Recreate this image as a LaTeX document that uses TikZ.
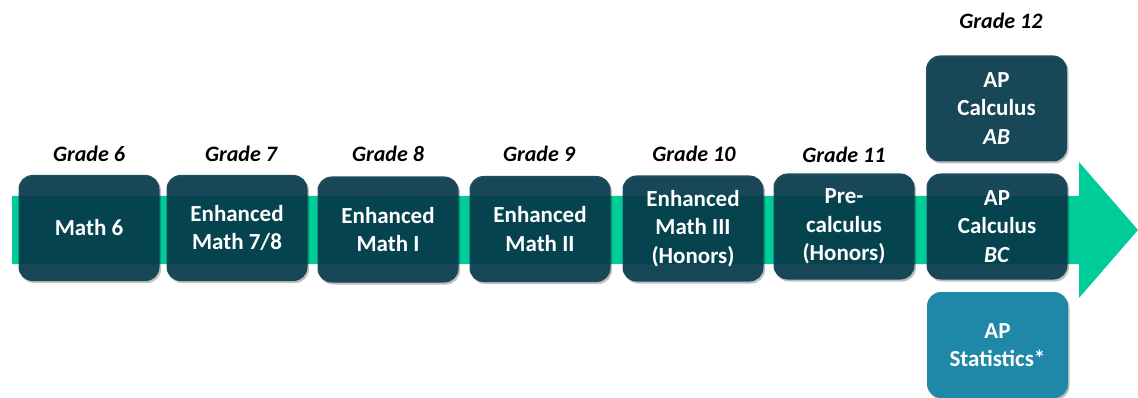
\documentclass[tikz,border=0pt]{standalone}
\usepackage{fontspec}
\setmainfont{Carlito}
\usetikzlibrary{shadows}
\definecolor{boxc}{RGB}{6,58,76}
\definecolor{statc}{RGB}{31,135,168}
\definecolor{arrowc}{RGB}{0,204,153}
\tikzset{
  course/.style={rounded corners=14pt, fill=boxc, fill opacity=0.9, text opacity=1,
    text=white, font=\bfseries\fontsize{23}{28.5}\selectfont, align=center,
    minimum width=141pt, minimum height=106pt, inner sep=0pt,
    drop shadow={shadow xshift=1.5pt, shadow yshift=-2pt, opacity=0.25, fill=black}},
  stat/.style={course, fill=statc, fill opacity=1},
  grade/.style={font=\bfseries\itshape\fontsize{22}{24}\selectfont, text=black, inner sep=0pt}
}
\begin{document}
\begin{tikzpicture}[x=1pt,y=-1pt]
\useasboundingbox (0,0) rectangle (1138,398);
\fill[arrowc] (12,196) -- (1079,196) -- (1079,162) -- (1138,230) -- (1079,298) -- (1079,264) -- (12,264) -- cycle;
\node[course] (m6) at (89,228) {Math 6};
\node[course] (m78) at (237,228) {Enhanced\\Math 7/8};
\node[course] (m1) at (388,229.5) {Enhanced\\Math I};
\node[course] (m2) at (540,229) {Enhanced\\Math II};
\node[course] (m3) at (693,228.5) {Enhanced\\Math III\\(Honors)};
\node[course] (pc) at (844,226.5) {Pre-\\calculus\\(Honors)};
\node[course] (bc) at (997,226.5) {AP\\Calculus\\\textit{BC}};
\node[course] (ab) at (996.5,108.5) {AP\\Calculus\\\textit{AB}};
\node[stat] (st) at (997.5,345) {AP\\Statistics*};
\node[grade] (g6) at (89,154) {Grade 6};
\node[grade] (g7) at (241,154) {Grade 7};
\node[grade] (g8) at (388,154) {Grade 8};
\node[grade] (g9) at (539,154) {Grade 9};
\node[grade] (g10) at (694,154) {Grade 10};
\node[grade] (g11) at (844,155) {Grade 11};
\node[grade] (g12) at (1001,21) {Grade 12};
\end{tikzpicture}
\end{document}
